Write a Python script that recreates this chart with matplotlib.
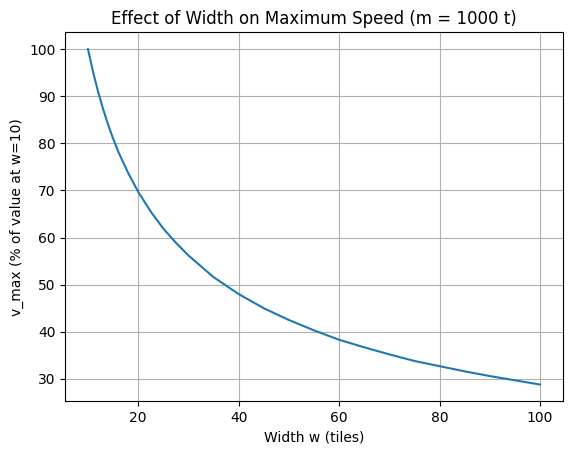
import matplotlib
matplotlib.use('Agg')
import matplotlib.pyplot as plt

# values
width_tiles = [10, 11, 12, 13, 14, 15, 16, 18, 20, 22.5, 25, 27.5, 30, 35, 40, 45,
               50, 55, 60, 65, 70, 75, 80, 85, 90, 95, 100]
vmax_pct = [100, 95.2, 91.0, 87.3, 84.0, 81.0, 78.3, 73.7, 69.7, 65.5, 61.9, 58.9, 56.2, 51.6, 48.0, 45.0,
            42.5, 40.3, 38.3, 36.7, 35.2, 33.8, 32.7, 31.6, 30.6, 29.7, 28.8]

fig = plt.figure(figsize=(5.71, 4.55), dpi=100)
ax = fig.add_subplot(1, 1, 1)
fig.subplots_adjust(left=0.1145, right=0.9853, top=0.929, bottom=0.118)

ax.plot(width_tiles, vmax_pct)
ax.set_xlabel('Width w (tiles)')
ax.set_ylabel('v_max (% of value at w=10)')
ax.set_title('Effect of Width on Maximum Speed (m = 1000 t)')
ax.grid(True)

fig.savefig('out.png', dpi=100)
